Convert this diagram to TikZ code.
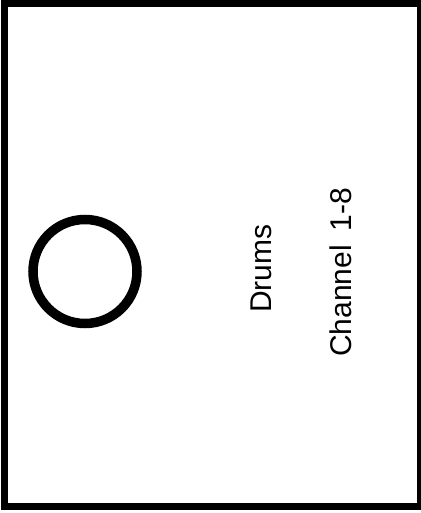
\documentclass[tikz,border=0pt]{standalone}
\usepackage{fontspec}
\setmainfont{Liberation Sans}
\begin{document}
\begin{tikzpicture}[x=1pt,y=-1pt,
  frame/.style={draw=black,line width=7pt},
  ring/.style={draw=black,line width=9.5pt},
  label/.style={rotate=90,inner sep=0pt,font=\fontsize{30}{36}\selectfont}]
\useasboundingbox (0,0) rectangle (420,513);
\fill[white] (0,0) rectangle (420,513);
\draw[frame] (4.5,3.5) rectangle (420.3,506.5);
\node[ring,circle,minimum size=104pt,inner sep=0pt] (drum) at (85,271.5) {};
\node[label] (drums) at (261.5,268.5) {Drums};
\node[label] (chan) at (341,272.5) {Channel\hspace{0.45em}1-8};
\end{tikzpicture}
\end{document}
